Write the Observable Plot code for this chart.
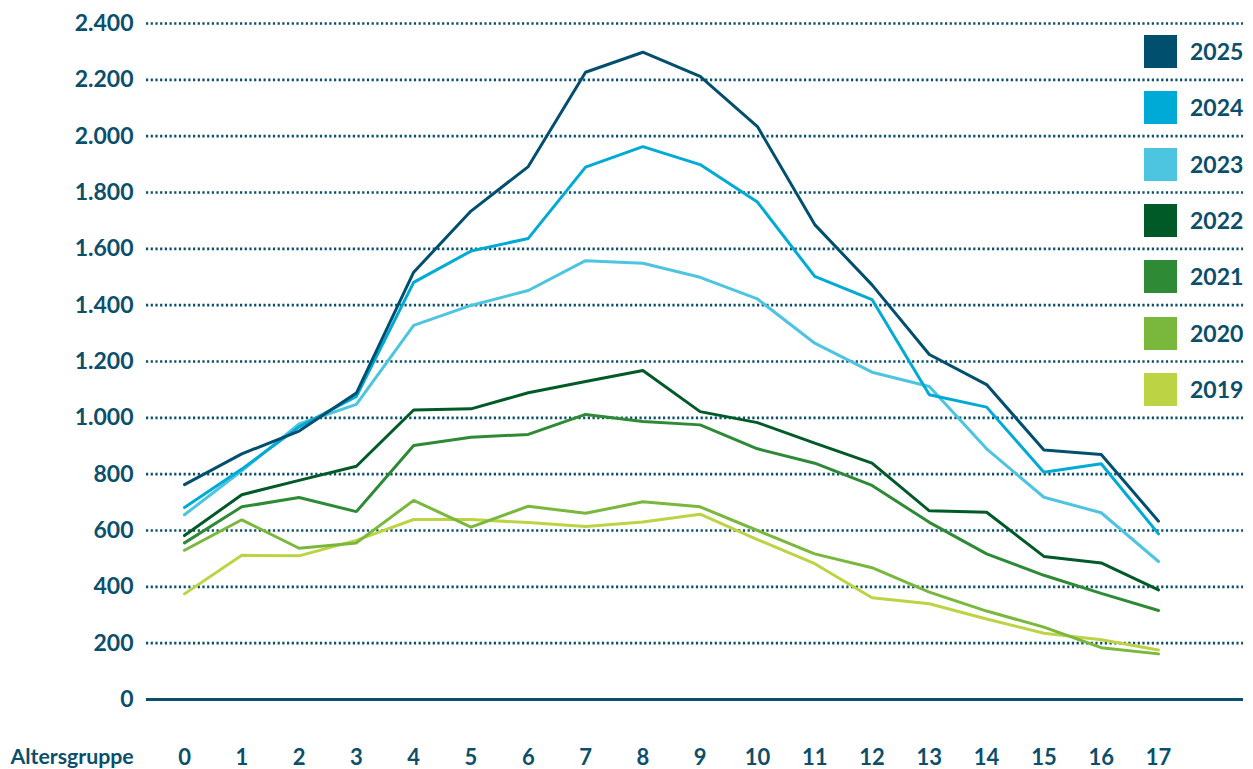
<!DOCTYPE html>
<html>
<head>
<meta charset="utf-8">
<script src="https://cdn.jsdelivr.net/npm/d3@7"></script>
<script src="https://cdn.jsdelivr.net/npm/@observablehq/plot@0.6"></script>
<style>
  html, body { margin: 0; padding: 0; background: #fff; }
  #wrap { position: relative; width: 1253px; height: 769px; font-family: Lato, "Open Sans", sans-serif; }
  #legend { position: absolute; left: 1144px; top: 35px; }
  .item { display: flex; align-items: center; height: 33px; margin-bottom: 23.33px; }
  .sw { width: 33px; height: 33px; margin-right: 13px; }
  .lab { font-size: 23px; font-weight: 700; color: #0b4f6c; line-height: 33px; }
</style>
</head>
<body>
<div id="wrap"><div id="legend"></div></div>
<script>
const ages = [0, 1, 2, 3, 4, 5, 6, 7, 8, 9, 10, 11, 12, 13, 14, 15, 16, 17];
const years = ["2025", "2024", "2023", "2022", "2021", "2020", "2019"];
const colors = ["#004f6e", "#00aad6", "#4dc4e0", "#005a27", "#2f8a36", "#79b83c", "#bcd444"];
const yTicks = [0, 200, 400, 600, 800, 1000, 1200, 1400, 1600, 1800, 2000, 2200, 2400];
const xLabel = "Altersgruppe";

const v2025 = [763, 872, 953, 1088, 1517, 1734, 1892, 2227, 2298, 2212, 2034, 1686, 1472, 1225, 1118, 886, 870, 633];
const v2024 = [682, 818, 968, 1076, 1481, 1592, 1637, 1890, 1963, 1899, 1766, 1502, 1420, 1082, 1038, 807, 837, 588];
const v2023 = [656, 812, 978, 1048, 1328, 1399, 1452, 1558, 1549, 1499, 1422, 1265, 1162, 1111, 890, 718, 663, 490];
const v2022 = [582, 727, 778, 828, 1028, 1032, 1089, 1129, 1168, 1022, 983, 910, 839, 670, 665, 508, 485, 389];
const v2021 = [556, 684, 717, 667, 902, 931, 941, 1012, 987, 975, 890, 839, 760, 629, 517, 441, 377, 316];
const v2020 = [530, 638, 537, 556, 707, 612, 686, 661, 702, 684, 600, 517, 468, 381, 314, 257, 184, 162];
const v2019 = [375, 512, 510, 565, 639, 639, 628, 614, 630, 658, 568, 482, 361, 340, 286, 235, 212, 176];

const series = { "2025": v2025, "2024": v2024, "2023": v2023, "2022": v2022, "2021": v2021, "2020": v2020, "2019": v2019 };
const drawOrder = years.slice().reverse();
const rows = drawOrder.flatMap(yr => series[yr].map((v, i) => ({ year: yr, age: ages[i], value: v })));

const ink = "#0b4f6c";
const fmt = d3.formatLocale({ decimal: ",", thousands: ".", grouping: [3], currency: ["", "€"] }).format(",d");

const chart = Plot.plot({
  width: 1253,
  height: 769,
  marginLeft: 146,
  marginRight: 10,
  marginTop: 23,
  marginBottom: 70,
  style: { fontFamily: "Lato, 'Open Sans', sans-serif", fontWeight: 700, color: ink, background: "#fff", overflow: "visible" },
  x: { type: "linear", domain: [0, 17], insetLeft: 38, insetRight: 85 },
  y: { domain: [0, 2400] },
  color: { domain: years, range: colors },
  marks: [
    Plot.ruleY(yTicks.filter(d => d > 0), { stroke: ink, strokeWidth: 2.6, strokeDasharray: "2.2,2.5" }),
    Plot.ruleY([0], { stroke: ink, strokeWidth: 3 }),
    Plot.line(rows, { x: "age", y: "value", z: "year", stroke: "year", strokeWidth: 3, strokeLinejoin: "miter" }),
    Plot.axisY({ ticks: yTicks, tickSize: 0, tickPadding: 13, tickFormat: fmt, fontSize: 23, label: null, fill: ink }),
    Plot.axisX({ ticks: ages, tickSize: 0, tickPadding: 50, tickFormat: d => String(d), fontSize: 22, label: null, fill: ink }),
    Plot.text([xLabel], { text: d => d, frameAnchor: "bottom-left", textAnchor: "start", lineAnchor: "middle", dx: -136, dy: 58, fontSize: 21.3, fill: ink })
  ]
});

document.getElementById("wrap").prepend(chart);

const legend = document.getElementById("legend");
years.forEach((yr, i) => {
  const item = document.createElement("div");
  item.className = "item";
  const sw = document.createElement("div");
  sw.className = "sw";
  sw.style.background = colors[i];
  const lab = document.createElement("div");
  lab.className = "lab";
  lab.textContent = yr;
  item.append(sw, lab);
  legend.append(item);
});
</script>
</body>
</html>
